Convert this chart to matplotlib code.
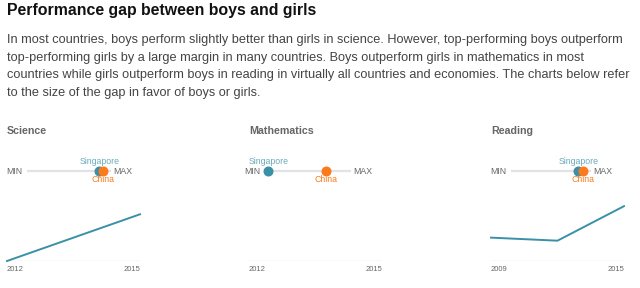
import matplotlib
matplotlib.use("Agg")
import matplotlib.pyplot as plt

plt.rcParams['font.family'] = ['Liberation Sans', 'DejaVu Sans']

W, H = 640, 288

title = "Performance gap between boys and girls"
intro = [
    "In most countries, boys perform slightly better than girls in science. However, top-performing boys outperform",
    "top-performing girls by a large margin in many countries. Boys outperform girls in mathematics in most",
    "countries while girls outperform boys in reading in virtually all countries and economies. The charts below refer",
    "to the size of the gap in favor of boys or girls.",
]

subjects = ["Science", "Mathematics", "Reading"]
# position of each country's gap on the MIN..MAX scale
singapore_pos = [0.86, 0.04, 0.84]
china_pos = [0.90, 0.71, 0.90]
# trend of the gap over the years
years = [[2012, 2015], [2012, 2015], [2009, 2012, 2015]]
trend = [[0.0, 4.6], [], [2.3, 2.0, 5.4]]

TEAL = "#3a90a6"
ORANGE = "#fb7a1c"
GRAY = "#666666"


def px(x, y, w, h):
    # pixel box (top-left origin) -> figure fraction rect
    return [x / W, 1 - (y + h) / H, w / W, h / H]


fig = plt.figure(figsize=(W / 100, H / 100), dpi=100)

fig.text(7 / W, 1 - 11 / H, title, fontsize=11.4, fontweight='bold',
         color='#111111', va='center', ha='left')
for i, line in enumerate(intro):
    fig.text(7 / W, 1 - (40 + i * 17.6) / H, line, fontsize=9.15,
             color='#444444', va='center', ha='left')

panel_x = [7, 249, 491]
strip_x = [(27, 111), (265, 351), (511, 591)]

for i, name in enumerate(subjects):
    x0 = panel_x[i]
    fig.text(x0 / W, 1 - 131 / H, name, fontsize=7.7, fontweight='bold',
             color=GRAY, va='center', ha='left')

    # MIN..MAX strip
    sx0, sx1 = strip_x[i]
    ax = fig.add_axes(px(sx0, 156, sx1 - sx0, 30))
    ax.set_xlim(0, 1)
    ax.set_ylim(-1, 1)
    ax.axis('off')
    ax.plot([0, 1], [0, 0], color='#e3e3e3', lw=1.6, solid_capstyle='butt', zorder=1)
    ax.plot(singapore_pos[i], 0, 'o', color=TEAL, ms=6.2, zorder=3, clip_on=False)
    ax.plot(china_pos[i], 0, 'o', color=ORANGE, ms=6.2, zorder=4, clip_on=False)
    ax.text(singapore_pos[i], 0.62, "Singapore", fontsize=6.3, color='#6aaabb',
            ha='center', va='center', clip_on=False)
    ax.text(china_pos[i], -0.55, "China", fontsize=6.3, color=ORANGE,
            ha='center', va='center', clip_on=False)
    fig.text((sx0 - 5) / W, 1 - 171.5 / H, "MIN", fontsize=6.3, color=GRAY,
             ha='right', va='center')
    fig.text((sx1 + 2) / W, 1 - 171.5 / H, "MAX", fontsize=6.3, color=GRAY,
             ha='left', va='center')

    # trend line
    lx = fig.add_axes(px(x0, 196, 133, 65))
    lx.set_xlim(years[i][0], years[i][-1])
    lx.set_ylim(0, 6.4)
    lx.axis('off')
    lx.axhline(0, color='#e0e0e0', lw=1, zorder=1)
    if trend[i]:
        lx.plot(years[i], trend[i], color=TEAL, lw=1.4, zorder=2, clip_on=False)
    lx.text(years[i][0], -0.8, str(years[i][0]), fontsize=5.5, color=GRAY,
            ha='left', va='center')
    lx.text(years[i][-1], -0.8, str(years[i][-1]), fontsize=5.5, color=GRAY,
            ha='right', va='center')

fig.savefig("out.png", dpi=100)
